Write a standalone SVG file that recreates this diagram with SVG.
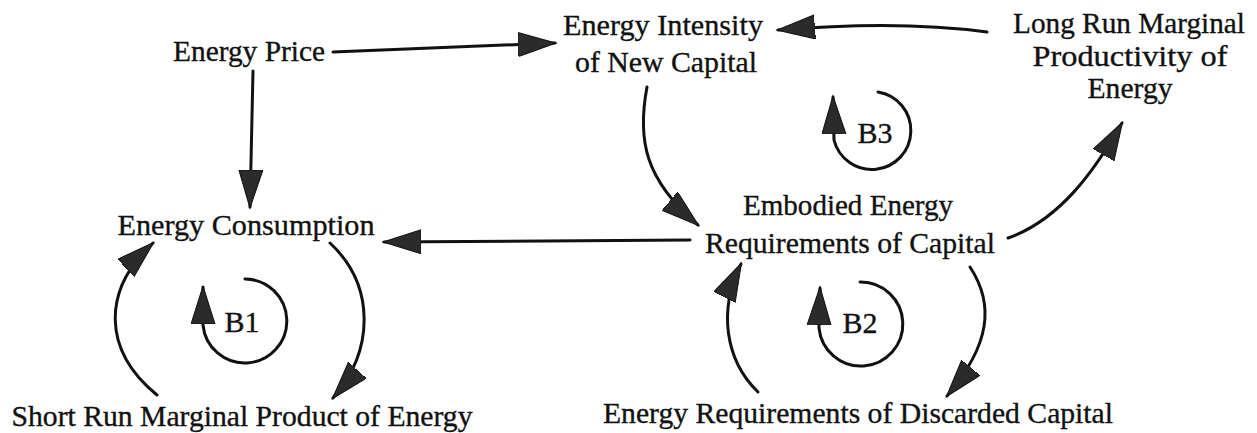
<svg xmlns="http://www.w3.org/2000/svg" width="1257" height="433" viewBox="0 0 1257 433">
<defs>
<style>
.lbl{font-family:"Liberation Serif","Times New Roman",serif;font-size:30px;fill:#111;stroke:#111;stroke-width:0.35;text-anchor:middle;}
.cn{fill:none;stroke:#111;stroke-width:3;stroke-linecap:round;}
</style>
<marker id="ah" markerUnits="userSpaceOnUse" markerWidth="40" markerHeight="26" refX="37" refY="12" orient="auto" viewBox="0 0 40 26">
<path d="M0,0 L38,12 L0,24 Z" fill="#2b2b2b" stroke="#111" stroke-width="1"/>
</marker>
</defs>
<rect width="1257" height="433" fill="#fff"/>

<g id="connectors">
<path class="cn" d="M253,71 L250,207" marker-end="url(#ah)"/>
<path class="cn" d="M333,52 L555,43" marker-end="url(#ah)"/>
<path class="cn" d="M987,32 Q900,20 778,30" marker-end="url(#ah)"/>
<path class="cn" d="M647,87 C637,140 645,180 698,225" marker-end="url(#ah)"/>
<path class="cn" d="M690,240 L384,242" marker-end="url(#ah)"/>
<path class="cn" d="M1008,238 C1060,220 1095,170 1122,123" marker-end="url(#ah)"/>
<path class="cn" d="M970,267 C995,305 990,345 947,396" marker-end="url(#ah)"/>
<path class="cn" d="M758,392 C725,360 718,310 741,264" marker-end="url(#ah)"/>
<path class="cn" d="M330,243 C375,285 375,350 333,398" marker-end="url(#ah)"/>
<path class="cn" d="M157,395 C102,350 102,290 153,243" marker-end="url(#ah)"/>
</g>

<g id="loop-B1">
<path class="cn" d="M245,279 A42,42 0 1 1 203,325 L203,287" marker-end="url(#ah)"/>
<text class="lbl" x="242" y="332">B1</text>
</g>
<g id="loop-B2">
<path class="cn" d="M860,282 A42,42 0 1 1 819,328 L820,288" marker-end="url(#ah)"/>
<text class="lbl" x="860" y="333">B2</text>
</g>
<g id="loop-B3">
<path class="cn" d="M878,92 A39,39 0 1 1 834,140 L833,97" marker-end="url(#ah)"/>
<text class="lbl" x="875" y="143">B3</text>
</g>

<g id="energy-price">
<text class="lbl" x="249" y="61" textLength="152" lengthAdjust="spacingAndGlyphs">Energy Price</text>
</g>
<g id="energy-intensity">
<text class="lbl" x="663" y="35" textLength="200" lengthAdjust="spacingAndGlyphs">Energy Intensity</text>
<text class="lbl" x="666" y="72" textLength="182" lengthAdjust="spacingAndGlyphs">of New Capital</text>
</g>
<g id="long-run">
<text class="lbl" x="1129" y="33" textLength="232" lengthAdjust="spacingAndGlyphs">Long Run Marginal</text>
<text class="lbl" x="1130" y="66" textLength="195" lengthAdjust="spacingAndGlyphs">Productivity of</text>
<text class="lbl" x="1130" y="98" textLength="85" lengthAdjust="spacingAndGlyphs">Energy</text>
</g>
<g id="energy-consumption">
<text class="lbl" x="246" y="235" textLength="257" lengthAdjust="spacingAndGlyphs">Energy Consumption</text>
</g>
<g id="embodied">
<text class="lbl" x="848" y="215" textLength="210" lengthAdjust="spacingAndGlyphs">Embodied Energy</text>
<text class="lbl" x="850" y="253" textLength="290" lengthAdjust="spacingAndGlyphs">Requirements of Capital</text>
</g>
<g id="short-run">
<text class="lbl" x="242" y="426" textLength="461" lengthAdjust="spacingAndGlyphs">Short Run Marginal Product of Energy</text>
</g>
<g id="discarded">
<text class="lbl" x="858" y="423" textLength="510" lengthAdjust="spacingAndGlyphs">Energy Requirements of Discarded Capital</text>
</g>
</svg>
